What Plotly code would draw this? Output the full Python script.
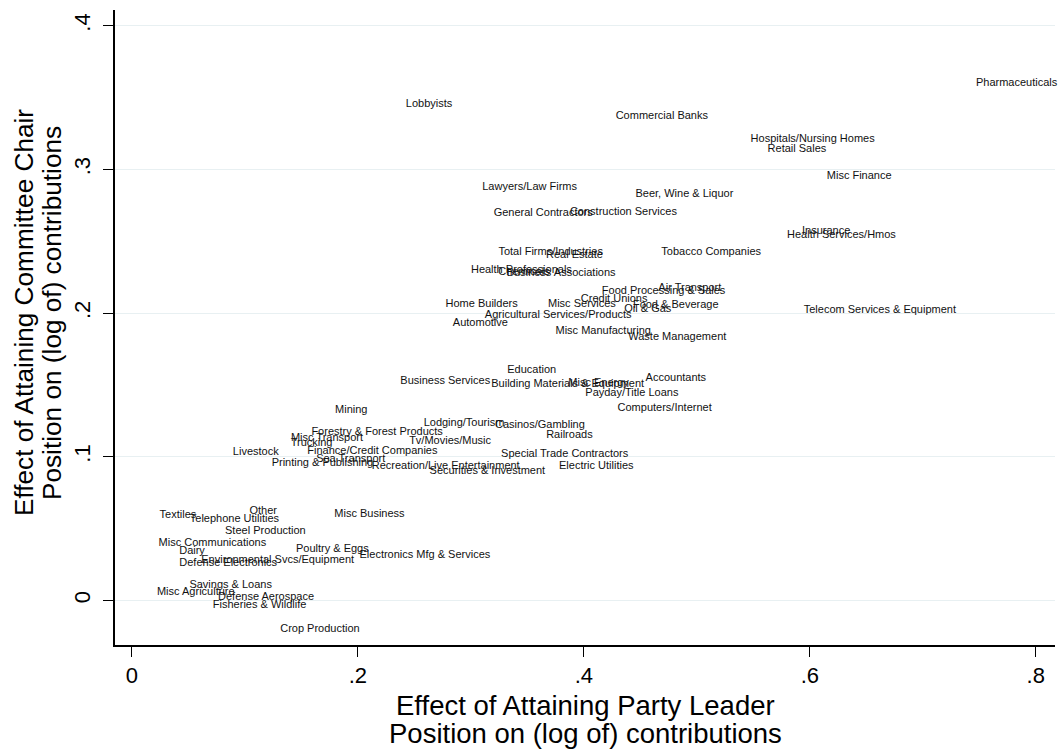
import plotly.graph_objects as go

industries = [
    "Pharmaceuticals", "Lobbyists", "Commercial Banks", "Hospitals/Nursing Homes", "Retail Sales",
    "Misc Finance", "Lawyers/Law Firms", "Beer, Wine & Liquor", "General Contractors", "Construction Services",
    "Insurance", "Health Services/Hmos", "Total Firms/Industries", "Real Estate", "Tobacco Companies",
    "Health Professionals", "Chemicals", "Business Associations", "Air Transport", "Food Processing & Sales",
    "Credit Unions", "Home Builders", "Misc Services", "Food & Beverage", "Oil & Gas",
    "Agricultural Services/Products", "Automotive", "Misc Manufacturing", "Waste Management", "Telecom Services & Equipment",
    "Education", "Business Services", "Building Materials & Equipment", "Misc Energy", "Accountants",
    "Payday/Title Loans", "Computers/Internet", "Mining", "Lodging/Tourism", "Casinos/Gambling",
    "Forestry & Forest Products", "Misc Transport", "Trucking", "Railroads", "Tv/Movies/Music",
    "Livestock", "Finance/Credit Companies", "Special Trade Contractors", "Sea Transport", "Printing & Publishing",
    "Recreation/Live Entertainment", "Electric Utilities", "Securities & Investment", "Textiles", "Other",
    "Telephone Utilities", "Misc Business", "Steel Production", "Misc Communications", "Dairy",
    "Poultry & Eggs", "Environmental Svcs/Equipment", "Defense Electronics", "Electronics Mfg & Services", "Savings & Loans",
    "Misc Agriculture", "Defense Aerospace", "Fisheries & Wildlife", "Crop Production",
]

party_leader_effect = [
    0.783, 0.263, 0.469, 0.6025, 0.5886,
    0.6437, 0.352, 0.489, 0.364, 0.435,
    0.6145, 0.628, 0.3706, 0.3917, 0.5127,
    0.3447, 0.347, 0.3799, 0.4938, 0.4706,
    0.4268, 0.3095, 0.3983, 0.4813, 0.4566,
    0.3773, 0.3084, 0.4171, 0.4827, 0.662,
    0.3538, 0.2773, 0.3857, 0.413, 0.4814,
    0.4425, 0.4715, 0.1941, 0.2939, 0.3611,
    0.217, 0.1726, 0.159, 0.3872, 0.2816,
    0.1096, 0.2128, 0.383, 0.1936, 0.1686,
    0.2777, 0.411, 0.3146, 0.0407, 0.1162,
    0.0907, 0.2102, 0.1181, 0.0712, 0.0532,
    0.1774, 0.129, 0.0852, 0.2593, 0.0874,
    0.0565, 0.1187, 0.113, 0.1664,
]

committee_chair_effect = [
    0.3601, 0.3456, 0.3373, 0.321, 0.3143,
    0.2953, 0.2878, 0.2829, 0.2697, 0.2704,
    0.2571, 0.2539, 0.2423, 0.2402, 0.2423,
    0.230, 0.2286, 0.2277, 0.2172, 0.2149,
    0.2095, 0.2063, 0.2063, 0.2054, 0.2026,
    0.1986, 0.1928, 0.1877, 0.1831, 0.2021,
    0.1603, 0.1524, 0.1505, 0.151, 0.1545,
    0.144, 0.1336, 0.1324, 0.1231, 0.1217,
    0.1168, 0.1127, 0.1092, 0.1148, 0.111,
    0.1031, 0.1036, 0.1015, 0.0983, 0.0957,
    0.0934, 0.0932, 0.0899, 0.0592, 0.0622,
    0.0562, 0.0599, 0.0479, 0.0395, 0.0341,
    0.0355, 0.0279, 0.026, 0.0314, 0.0105,
    0.0058, 0.0019, -0.0035, -0.0202,
]

x_ticks = [0, 0.2, 0.4, 0.6, 0.8]
x_tick_labels = ["0", ".2", ".4", ".6", ".8"]
y_ticks = [0, 0.1, 0.2, 0.3, 0.4]
y_tick_labels = ["0", ".1", ".2", ".3", ".4"]

x_title_lines = ["Effect of Attaining Party Leader", "Position on (log of) contributions"]
y_title_lines = ["Effect of Attaining Committee Chair", "Position on (log of) contributions"]

FONT = "Liberation Sans, Arial, Helvetica, sans-serif"

W, H = 1058, 749
ML, MR, MT, MB = 115, 3, 10, 104
PW, PH = W - ML - MR, H - MT - MB


def px_to_paper_x(px):
    return (px - ML) / PW


def px_to_paper_y(py):
    return (H - MB - py) / PH


fig = go.Figure()
fig.add_trace(go.Scatter(
    x=party_leader_effect,
    y=committee_chair_effect,
    mode="text",
    text=industries,
    textposition="middle center",
    textfont=dict(family=FONT, size=11, color="#111111"),
    hoverinfo="text",
    showlegend=False,
    cliponaxis=False,
))

annotations = []
for line, py in zip(x_title_lines, [705, 733]):
    annotations.append(dict(
        text=line, xref="paper", yref="paper",
        x=0.5, y=px_to_paper_y(py), xanchor="center", yanchor="middle",
        showarrow=False, font=dict(family=FONT, size=27.5, color="black"),
    ))
for line, px in zip(y_title_lines, [24, 52]):
    annotations.append(dict(
        text=line, xref="paper", yref="paper",
        x=px_to_paper_x(px), y=px_to_paper_y(313), xanchor="center", yanchor="middle",
        textangle=-90,
        showarrow=False, font=dict(family=FONT, size=26.2, color="black"),
    ))

fig.update_layout(
    width=W,
    height=H,
    margin=dict(l=ML, r=MR, t=MT, b=MB),
    paper_bgcolor="white",
    plot_bgcolor="white",
    font=dict(family=FONT, color="black"),
    annotations=annotations,
    xaxis=dict(
        range=[-0.015, 0.817],
        tickvals=x_ticks,
        ticktext=x_tick_labels,
        tickfont=dict(size=22, family=FONT),
        ticks="outside",
        ticklen=10,
        tickwidth=1.3,
        tickcolor="black",
        showline=True,
        linecolor="black",
        linewidth=1.5,
        showgrid=False,
        zeroline=False,
        automargin=False,
    ),
    yaxis=dict(
        range=[-0.031, 0.411],
        tickvals=y_ticks,
        ticktext=y_tick_labels,
        tickangle=-90,
        tickfont=dict(size=22, family=FONT),
        ticks="outside",
        ticklen=10,
        tickwidth=1.3,
        tickcolor="black",
        ticklabelstandoff=4,
        showline=True,
        linecolor="black",
        linewidth=1.5,
        showgrid=True,
        gridcolor="#e8f0f2",
        gridwidth=1.2,
        zeroline=False,
        automargin=False,
    ),
)

fig.write_html(
    "out.html",
    config={"displayModeBar": False},
    post_script="document.body.style.margin='0';document.body.style.overflow='hidden';",
)
